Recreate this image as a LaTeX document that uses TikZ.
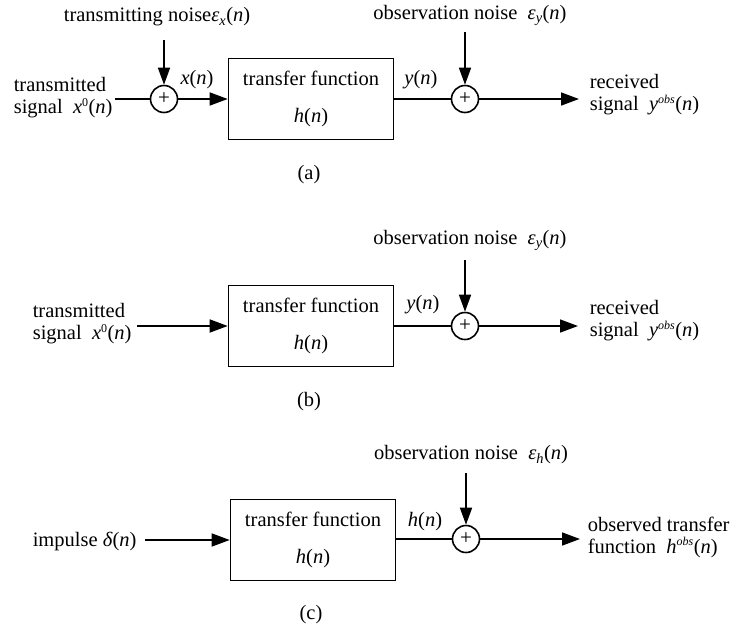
\documentclass[tikz,border=0pt]{standalone}
\usepackage{fontspec}
\setmainfont{Liberation Serif}
\usetikzlibrary{arrows.meta}
\newcommand\vi[1]{\textit{#1}}
\newcommand\sbs[1]{\textsubscript{\textit{#1}}}
\newcommand\sps[1]{\textsuperscript{\fontsize{12}{12}\selectfont #1}}
\begin{document}
\begin{tikzpicture}[x=1pt,y=-1pt,
  font=\fontsize{20.5}{22}\selectfont,
  line width=1.6pt,
  sig/.style={-{Triangle[length=18pt,width=13pt]}},
  noisearrow/.style={-{Triangle[length=17pt,width=12pt]}},
  tf/.style={draw, minimum width=165pt, minimum height=81pt, align=center, inner sep=0pt},
  sum/.style={draw, circle, minimum size=27pt, inner sep=0pt, font=\fontsize{21}{21}\selectfont},
  lbl/.style={inner sep=1pt},
  txt/.style={align=left, inner sep=2pt, anchor=west}]
\useasboundingbox (0,0) rectangle (732,630);

% ---------- (a) ----------
\node[tf] (boxA) at (311,99) {transfer function\\[15pt]\vi{h}(\vi{n})};
\node[sum] (sumA1) at (164,99) {+};
\node[sum] (sumA2) at (465,99) {+};
\node[txt] (inA) at (11,98) {transmitted\\signal\ \ \vi{x}\sps{0}(\vi{n})};
\node[lbl] (nxA) at (157,17) {transmitting noise\vi{ε}\sbs{x}(\vi{n})};
\node[lbl] (nyA) at (470,15) {observation noise\ \ \vi{ε}\sbs{y}(\vi{n})};
\node[txt] (outA) at (587,95) {received\\signal\ \ \vi{y}\sps{\vi{obs}}(\vi{n})};
\node[lbl] at (197,80) {\vi{x}(\vi{n})};
\node[lbl] at (421,80) {\vi{y}(\vi{n})};
\node[lbl] at (309,175) {(a)};
\coordinate (topA1) at (164,40);
\coordinate (topA2) at (465,32);
\coordinate (endA) at (579,99);
\draw (inA.east |- sumA1) -- (sumA1.west);
\draw[noisearrow] (topA1) -- (sumA1.north);
\draw[sig] (sumA1.east) -- (boxA.west);
\draw (boxA.east) -- (sumA2.west);
\draw[noisearrow] (topA2) -- (sumA2.north);
\draw[sig] (sumA2.east) -- (endA);

% ---------- (b) ----------
\node[tf] (boxB) at (311,326) {transfer function\\[15pt]\vi{h}(\vi{n})};
\node[sum] (sumB) at (465,326) {+};
\node[txt] (inB) at (30,324) {transmitted\\signal\ \ \vi{x}\sps{0}(\vi{n})};
\node[lbl] (nyB) at (470,240) {observation noise\ \ \vi{ε}\sbs{y}(\vi{n})};
\node[txt] (outB) at (587,321) {received\\signal\ \ \vi{y}\sps{\vi{obs}}(\vi{n})};
\node[lbl] at (423,305) {\vi{y}(\vi{n})};
\node[lbl] at (309,402) {(b)};
\coordinate (topB) at (465,260);
\coordinate (endB) at (578,326);
\draw[sig] ([xshift=3pt]inB.east |- sumB) -- (boxB.west);
\draw (boxB.east) -- (sumB.west);
\draw[noisearrow] (topB) -- (sumB.north);
\draw[sig] (sumB.east) -- (endB);

% ---------- (c) ----------
\node[tf] (boxC) at (313,540) {transfer function\\[15pt]\vi{h}(\vi{n})};
\node[sum] (sumC) at (466,539) {+};
\node[txt] (inC) at (30,542) {impulse \vi{δ}(\vi{n})};
\node[lbl] (nhC) at (471,455) {observation noise\ \ \vi{ε}\sbs{h}(\vi{n})};
\node[txt] (outC) at (585,537) {observed transfer\\function\ \ \vi{h}\sps{\vi{obs}}(\vi{n})};
\node[lbl] at (425,522) {\vi{h}(\vi{n})};
\node[lbl] at (311,615) {(c)};
\coordinate (topC) at (466,473);
\coordinate (endC) at (580,539);
\draw[sig] ([xshift=6pt]inC.east |- boxC) -- (boxC.west);
\draw (boxC.east |- sumC) -- (sumC.west);
\draw[noisearrow] (topC) -- (sumC.north);
\draw[sig] (sumC.east) -- (endC);
\end{tikzpicture}
\end{document}
